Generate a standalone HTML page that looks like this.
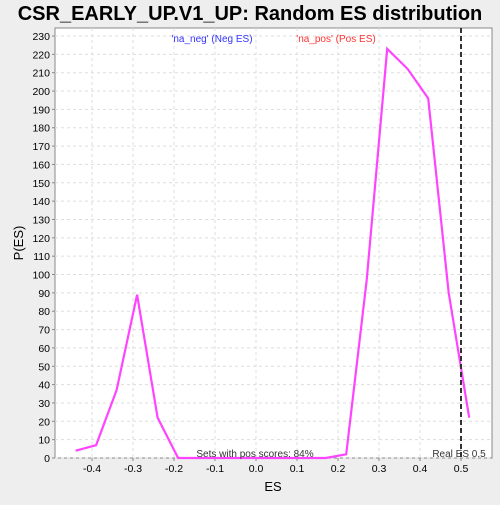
<!DOCTYPE html>
<html><head><meta charset="utf-8"><style>
body{margin:0;background:#eeeeee;width:500px;height:500px;overflow:hidden;font-family:"Liberation Sans",sans-serif}
</style></head><body>
<svg width="500" height="500">
<text x="250" y="20" text-anchor="middle" font-size="20" font-weight="bold">CSR_EARLY_UP.V1_UP: Random ES distribution</text>
<rect x="55" y="28" width="437" height="430" fill="#fff" stroke="#888"/>
<g id="grid"></g><g id="axes"></g>
<text x="212" y="42" text-anchor="middle" font-size="10" fill="#3333ff">'na_neg' (Neg ES)</text>
<text x="336" y="42" text-anchor="middle" font-size="10" fill="#ff3333">'na_pos' (Pos ES)</text>
<polyline id="line" fill="none" stroke="#ff44ff" stroke-width="2.2"/>
<line id="real" stroke="#333" stroke-width="2" stroke-dasharray="5,3"/>
<text x="255" y="457" text-anchor="middle" font-size="10" fill="#333">Sets with pos scores: 84%</text>
<text x="459" y="457" text-anchor="middle" font-size="10" fill="#333">Real ES 0.5</text>
<text x="273" y="491" text-anchor="middle" font-size="13">ES</text>
<text x="23" y="243" text-anchor="middle" font-size="13" transform="rotate(-90 23 243)">P(ES)</text>
</svg>
<script>
const esX=[-0.44,-0.39,-0.34,-0.29,-0.24,-0.19,-0.14,-0.09,-0.04,0.01,0.06,0.11,0.17,0.22,0.27,0.32,0.37,0.42,0.47,0.52];
const esY=[4,7,37,89,22,0,0,0,0,0,0,0,0,2,97,223,212,196,90,22];
const xTicks=[-0.4,-0.3,-0.2,-0.1,0.0,0.1,0.2,0.3,0.4,0.5];
const yMax=230;
const realES=0.5;
const sx=v=>256+v*410, sy=v=>458-v*(422/230);
const NS="http://www.w3.org/2000/svg";
const g=document.getElementById('grid'),a=document.getElementById('axes');
function mk(p,t,at){const e=document.createElementNS(NS,t);for(const k in at)e.setAttribute(k,at[k]);p.appendChild(e);return e;}
for(let v=0;v<=yMax;v+=10){const y=sy(v);
const gl=mk(g,'line',{x1:55,x2:492,y1:y,y2:y,stroke:'#dddddd','stroke-dasharray':'3,3'});


mk(a,'line',{x1:52,x2:55,y1:y,y2:y,stroke:'#888'});
const t=mk(a,'text',{x:50,y:y+4,'text-anchor':'end','font-size':10.5});t.textContent=v;

}
xTicks.forEach(v=>{const x=sx(v);
const gl=mk(g,'line',{x1:x,x2:x,y1:28,y2:458,stroke:'#dddddd','stroke-dasharray':'3,3'});


mk(a,'line',{x1:x,x2:x,y1:458,y2:461,stroke:'#888'});
const t=mk(a,'text',{x:x,y:472,'text-anchor':'middle','font-size':10.5});t.textContent=v.toFixed(1);

});
document.getElementById('line').setAttribute('points',esX.map((x,i)=>sx(x)+','+sy(esY[i])).join(' '));
const r=document.getElementById('real');r.setAttribute('x1',sx(realES));r.setAttribute('x2',sx(realES));r.setAttribute('y1',28);r.setAttribute('y2',458);
</script>
</body></html>
